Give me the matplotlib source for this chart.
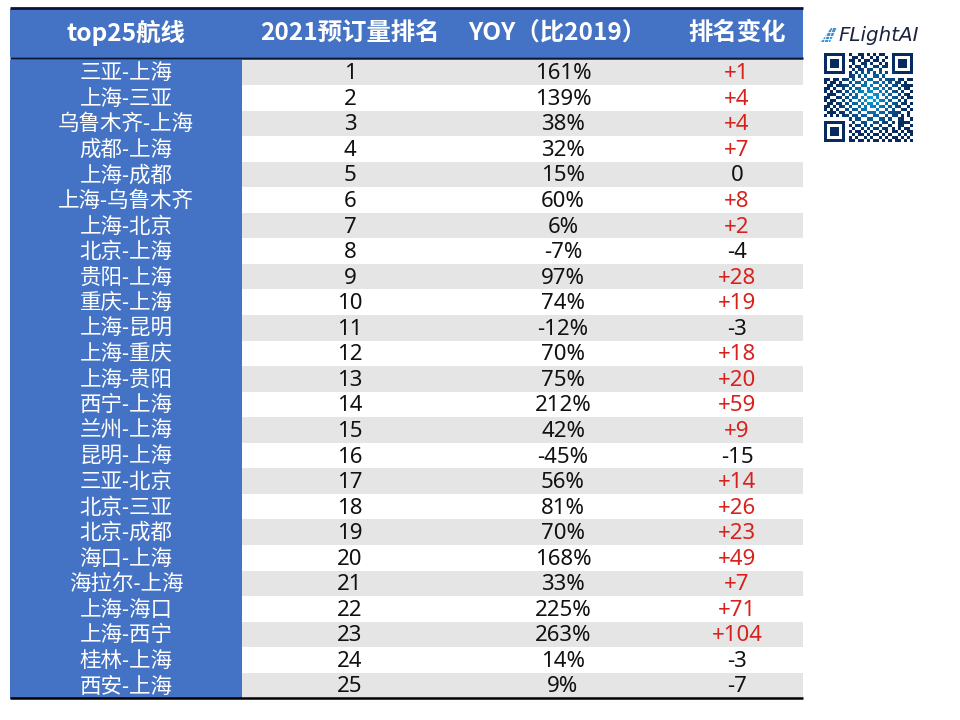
import matplotlib
matplotlib.use("Agg")
import matplotlib.pyplot as plt
from matplotlib.patches import Rectangle
import numpy as np

plt.rcParams['font.family'] = ['Noto Sans', 'Noto Sans CJK SC', 'DejaVu Sans']

headers = ['top25航线', '2021预订量排名', 'YOY（比2019）', '排名变化']
routes = ['三亚-上海', '上海-三亚', '乌鲁木齐-上海', '成都-上海', '上海-成都', '上海-乌鲁木齐', '上海-北京',
          '北京-上海', '贵阳-上海', '重庆-上海', '上海-昆明', '上海-重庆', '上海-贵阳', '西宁-上海', '兰州-上海',
          '昆明-上海', '三亚-北京', '北京-三亚', '北京-成都', '海口-上海', '海拉尔-上海', '上海-海口', '上海-西宁',
          '桂林-上海', '西安-上海']
ranks = list(range(1, 26))
yoy = [161, 139, 38, 32, 15, 60, 6, -7, 97, 74, -12, 70, 75, 212, 42, -45, 56, 81, 70, 168, 33, 225, 263, 14, 9]
change = [1, 4, 4, 7, 0, 8, 2, -4, 28, 19, -3, 18, 20, 59, 9, -15, 14, 26, 23, 49, 7, 71, 104, -3, -7]
qr = [
 "11111110100110101011001111111",
 "10000010011010010100101000001",
 "10111010110101101101001011101",
 "10111010010011010010101011101",
 "10111010101101001101101011101",
 "10000010010110110010001000001",
 "11111110101010101010101111111",
 "00000000110101001101000000000",
 "11011011010010110010111011011",
 "10110100101101001101010110100",
 "01101111010011010010101101111",
 "11010010101100101101010010110",
 "10101101010110110010101101001",
 "01110010101001001101010010110",
 "11001101011010110100101101011",
 "10110010100101001011010010100",
 "01101101011010110100101101101",
 "11010110100101011011010110010",
 "10101001011011000100101001101",
 "01110110100100111011011110010",
 "10101011011011001100101101010",
 "00000000101100110011010011001",
 "11111110010011001101101011110",
 "10000010101101010010010011001",
 "10111010010010101101101010110",
 "10111010101101010010101101011",
 "10111010010110101101010010101",
 "10000010101001010010101101010",
 "11111110110110101101010110101",
]

BLUE = '#4472c4'
GREY = '#e5e5e5'
NAVY = '#0b1433'
RED = '#d8201c'
BLACK = '#111111'

fig = plt.figure(figsize=(9.6, 7.2), dpi=100)
ax = fig.add_axes([0, 0, 1, 1])
ax.set_xlim(0, 960)
ax.set_ylim(720, 0)
ax.axis('off')

L, R, C1 = 10, 803, 242
top, hbot, r0, rh = 9, 57, 59.5, 25.55
cx = [126, 350, 563, 737]
hx = [126, 350, 557, 737]
dy = 1.5

ax.add_patch(Rectangle((L, top), R - L, hbot - top, fc=BLUE, ec='none'))
for i, h in enumerate(headers):
    ax.text(hx[i], 33, h, color='white', fontsize=17.6, fontweight='bold', ha='center', va='center',
            family=['Noto Sans CJK SC', 'DejaVu Sans'])

for i in range(len(routes)):
    y = r0 + i * rh
    ym = y + rh / 2 + dy
    ax.add_patch(Rectangle((L, y), C1 - L, rh + .5, fc=BLUE, ec='none'))
    ax.add_patch(Rectangle((C1, y), R - C1, rh, fc=GREY if i % 2 == 0 else 'white', ec='none'))
    ax.text(cx[0], ym, routes[i], color='white', fontsize=15.5, ha='center', va='center')
    ax.text(cx[1], ym, str(ranks[i]), color=BLACK, fontsize=16, ha='center', va='center')
    ax.text(cx[2], ym, f'{yoy[i]}%', color=BLACK, fontsize=16, ha='center', va='center')
    c = change[i]
    ax.text(cx[3], ym, f'+{c}' if c > 0 else str(c), color=RED if c > 0 else BLACK,
            fontsize=16, ha='center', va='center')

ax.plot([L, R], [8, 8], color=NAVY, lw=2, solid_capstyle='butt')
ax.plot([L, R], [58, 58], color=NAVY, lw=1.8, solid_capstyle='butt')
ax.plot([L, R], [698, 698], color='black', lw=1.8, solid_capstyle='butt')

# logo
ax.text(838, 35.5, 'FLightAI', color='#1b2340', fontsize=14.3, style='italic', family='DejaVu Sans',
        ha='left', va='center')
ax.add_patch(plt.Polygon([[821, 42], [830, 42], [837, 28], [831, 28]], fc='#3f8fd2', ec='none'))
for yy_ in (32, 36, 39):
    ax.plot([820, 838], [yy_, yy_], color='white', lw=0.6)
for xx_ in (826, 830, 834):
    ax.plot([xx_ - 2, xx_ + 3], [43, 27], color='white', lw=0.6)

# QR
m = np.array([[int(c) for c in row] for row in qr], float)
xx, yy = np.meshgrid(np.arange(29), np.arange(29))
d = np.clip(np.hypot(xx - 15, yy - 14) / 12, 0, 1)
rgb = np.ones((29, 29, 3))
inner = np.array([0.05, 0.62, 0.88])
outer = np.array([0.03, 0.17, 0.38])
for k in range(3):
    col = inner[k] + (outer[k] - inner[k]) * d
    rgb[..., k] = np.where(m > 0, col, 1)
ax.imshow(rgb, extent=(824, 913, 142, 53), interpolation='nearest', aspect='auto', zorder=2)
ax.set_xlim(0, 960)
ax.set_ylim(720, 0)

fig.savefig('out.png', dpi=100)
